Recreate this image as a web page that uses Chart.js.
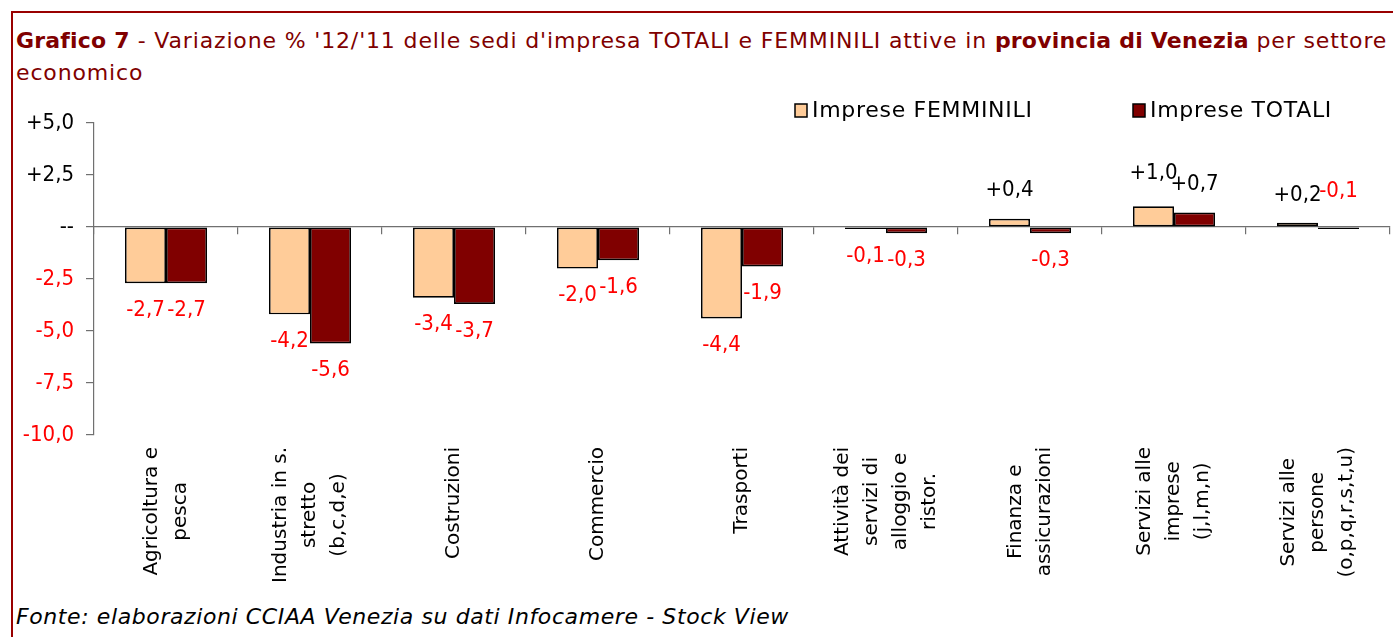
<!DOCTYPE html>
<html>
<head>
<meta charset="utf-8">
<script src="https://cdn.jsdelivr.net/npm/chart.js@4/dist/chart.umd.min.js"></script>
<style>
  html, body { margin: 0; padding: 0; background: #fff; }
  body { width: 1393px; height: 637px; overflow: hidden; position: relative; }
  .frame { position: absolute; left: 11px; top: 11px; width: 1420px; height: 700px;
           border: 2px solid #990000; box-sizing: border-box; }
  .title { position: absolute; left: 16px; top: 25px; white-space: nowrap; letter-spacing: 0.85px;
           font: 22px "DejaVu Sans", sans-serif; color: #800000; line-height: 32px; }
  .title b { color: #800000; letter-spacing: 0.2px; }
  .source { position: absolute; left: 16px; top: 604px; white-space: nowrap; letter-spacing: 0.6px;
            font: italic 22px "DejaVu Sans", sans-serif; color: #000; }
  #wrap { position: absolute; left: 0; top: 0; width: 1393px; height: 637px; }
</style>
</head>
<body>
<div class="frame"></div>
<div class="title"><b>Grafico 7</b> - Variazione % '12/'11 delle sedi d'impresa TOTALI e FEMMINILI attive in <b>provincia di Venezia</b> per settore<br>economico</div>
<div class="source">Fonte: elaborazioni CCIAA Venezia su dati Infocamere - Stock View</div>
<div id="wrap"><canvas id="chart" width="1393" height="637"></canvas></div>
<script>
// settori economici (righe delle etichette ruotate)
const categories = [
  ['Agricoltura e', 'pesca'],
  ['Industria in s.', 'stretto', '(b,c,d,e)'],
  ['Costruzioni'],
  ['Commercio'],
  ['Trasporti'],
  ['Attività dei', 'servizi di', 'alloggio e', 'ristor.'],
  ['Finanza e', 'assicurazioni'],
  ['Servizi alle', 'imprese', '(j,l,m,n)'],
  ['Servizi alle', 'persone', '(o,p,q,r,s,t,u)']
];
const femminili = [-2.7, -4.2, -3.4, -2.0, -4.4, -0.1, 0.4, 1.0, 0.2];
const totali = [-2.7, -5.6, -3.7, -1.6, -1.9, -0.3, -0.3, 0.7, -0.1];
const yTicks = [5, 2.5, 0, -2.5, -5, -7.5, -10];

const numFont = '22px "DejaVu Sans Condensed", "DejaVu Sans", sans-serif';

function fmt(v) {
  if (v === 0) return '--';
  const s = Math.abs(v).toFixed(1).replace('.', ',');
  return (v > 0 ? '+' : '-') + s;
}

// etichette dei valori sopra/sotto le barre
const valueLabels = {
  id: 'valueLabels',
  afterDatasetsDraw(chart) {
    const ctx = chart.ctx;
    const zero = chart.scales.y.getPixelForValue(0);
    ctx.save();
    ctx.font = numFont;
    ctx.textAlign = 'center';
    ctx.textBaseline = 'middle';
    chart.data.datasets.forEach((ds, di) => {
      chart.getDatasetMeta(di).data.forEach((bar, i) => {
        const v = ds.data[i];
        ctx.fillStyle = v < 0 ? '#ff0000' : '#000000';
        let y;
        if (v >= 0) y = bar.y - (v >= 1 ? 33 : 28);
        else if (di === 1 && i === categories.length - 1) y = zero - 36; // in alto come nell'originale
        else y = bar.y + 27;
        ctx.fillText(fmt(v), bar.x, y);
      });
    });
    ctx.restore();
  }
};

// etichette categorie ruotate, righe centrate
const catLabels = {
  id: 'catLabels',
  afterDraw(chart) {
    const ctx = chart.ctx;
    const xs = chart.scales.x;
    const top = chart.chartArea.bottom + 12;
    const lh = 29;
    ctx.save();
    ctx.font = '20px "DejaVu Sans", sans-serif';
    ctx.fillStyle = '#000';
    ctx.textAlign = 'center';
    ctx.textBaseline = 'middle';
    categories.forEach((lines, i) => {
      const cx = xs.getPixelForValue(i);
      const w = Math.max(...lines.map(l => ctx.measureText(l).width));
      lines.forEach((line, j) => {
        const x = cx + (j - (lines.length - 1) / 2) * lh;
        ctx.save();
        ctx.translate(x, top + w / 2);
        ctx.rotate(-Math.PI / 2);
        ctx.fillText(line, 0, 0);
        ctx.restore();
      });
    });
    ctx.restore();
  }
};

// legenda in alto a destra
const legendBoxes = {
  id: 'legendBoxes',
  afterDraw(chart) {
    const ctx = chart.ctx;
    const xPos = [795, 1133];
    ctx.save();
    ctx.font = '22px "DejaVu Sans", sans-serif';
    ctx.letterSpacing = '0.7px';
    ctx.textBaseline = 'middle';
    chart.data.datasets.forEach((ds, di) => {
      const x = xPos[di];
      ctx.fillStyle = ds.backgroundColor;
      ctx.fillRect(x, 104, 12, 13);
      ctx.strokeStyle = '#000';
      ctx.lineWidth = 1.5;
      ctx.strokeRect(x, 104, 12, 13);
      ctx.fillStyle = '#000';
      ctx.fillText(ds.label, x + 17, 111);
    });
    ctx.restore();
  }
};

new Chart(document.getElementById('chart'), {
  type: 'bar',
  data: {
    labels: categories.map(c => c.join(' ')),
    datasets: [
      { label: 'Imprese FEMMINILI', data: femminili, backgroundColor: '#FFCC99',
        borderColor: '#000', borderWidth: 1.7, borderSkipped: false },
      { label: 'Imprese TOTALI', data: totali, backgroundColor: '#800000',
        borderColor: '#000', borderWidth: 1.7, borderSkipped: false }
    ]
  },
  options: {
    responsive: false,
    animation: false,
    categoryPercentage: 0.57,
    barPercentage: 1.0,
    layout: { padding: { left: 0, top: 123, right: 3, bottom: 202 } },
    plugins: { legend: { display: false }, tooltip: { enabled: false } },
    scales: {
      x: {
        position: { y: 0 },
        ticks: { display: false },
        grid: { offset: true, drawOnChartArea: false, tickLength: 7, color: '#707070', lineWidth: 1.2 },
        border: { color: '#707070', width: 1.2 }
      },
      y: {
        min: -10, max: 5,
        afterBuildTicks(scale) { scale.ticks = yTicks.map(v => ({ value: v })); },
        afterFit(scale) { scale.width = 94; },
        ticks: {
          callback: v => fmt(v),
          color: ctx => ctx.tick.value < 0 ? '#ff0000' : '#000000',
          font: { family: '"DejaVu Sans Condensed", "DejaVu Sans", sans-serif', size: 22 },
          padding: 12
        },
        grid: { drawOnChartArea: false, tickLength: 8, color: '#707070', lineWidth: 1.2 },
        border: { color: '#707070', width: 1.2 }
      }
    }
  },
  plugins: [valueLabels, catLabels, legendBoxes]
});
</script>
</body>
</html>
